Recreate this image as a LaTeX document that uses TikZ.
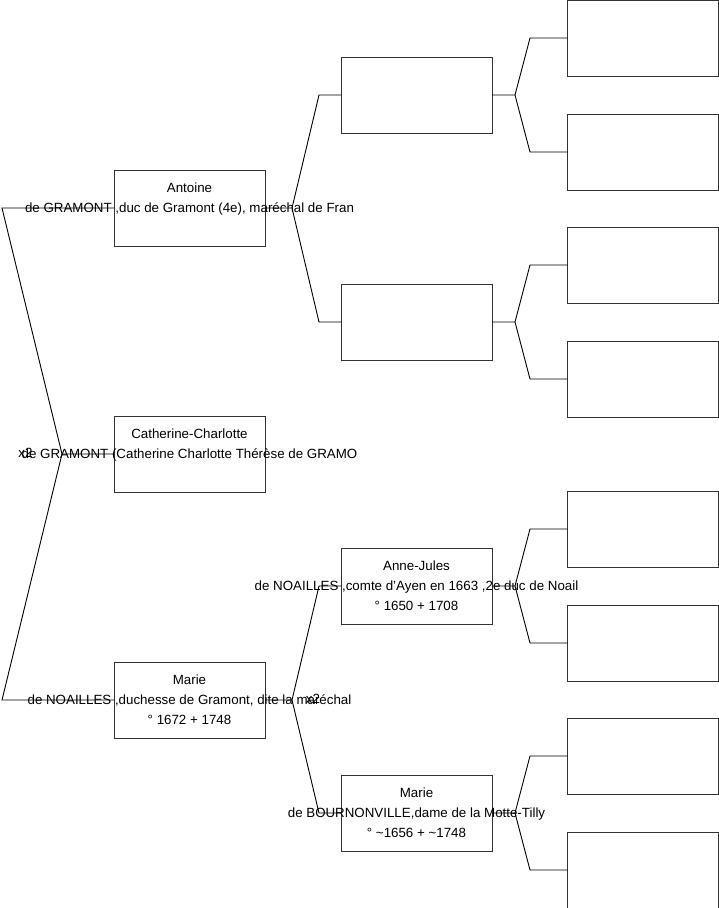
\documentclass[tikz,border=0pt]{standalone}
\usepackage{fontspec}
\setmainfont{Liberation Sans}
\begin{document}
\begin{tikzpicture}[x=1pt,y=-1pt,
  pbox/.style={draw=black!80,line width=1pt,minimum width=151pt,minimum height=76pt,inner sep=0pt,outer sep=0pt},
  ptext/.style={anchor=base,inner sep=0pt,font=\fontsize{13.33}{16}\selectfont},
  link/.style={draw=black,line width=0.9pt},
  mark2/.style={anchor=base,inner sep=0pt,font=\fontsize{13.33}{16}\selectfont}]
\useasboundingbox (0,0) rectangle (719,908);
\newcommand\personbox[6]{%
  \node[pbox] (#1) at (#2,#3) {};
  \node[ptext] (#1-a) at (#2,#3-16) {#4};
  \node[ptext] (#1-b) at (#2,#3+4) {#5};
  \node[ptext] (#1-c) at (#2,#3+24) {#6};}
% column 1
\personbox{A}{189.5}{208}{Antoine}{de GRAMONT ,duc de Gramont (4e), maréchal de Fran}{}
\personbox{C}{189.5}{454}{Catherine-Charlotte}{de GRAMONT (Catherine Charlotte Thérèse de GRAMO}{}
\personbox{M}{189.5}{700}{Marie}{de NOAILLES ,duchesse de Gramont, dite la maréchal}{° 1672 + 1748}
% column 2
\personbox{P1}{416.5}{95}{}{}{}
\personbox{P2}{416.5}{322}{}{}{}
\personbox{P3}{416.5}{586}{Anne-Jules}{de NOAILLES ,comte d'Ayen en 1663 ,2e duc de Noail}{° 1650 + 1708}
\personbox{P4}{416.5}{813}{Marie}{de BOURNONVILLE,dame de la Motte-Tilly}{° \textasciitilde1656 + \textasciitilde1748}
% column 3
\foreach \i/\yy in {1/38,2/152,3/265,4/379,5/529,6/643,7/756,8/870}{
  \node[pbox] (G\i) at (643,\yy) {};}
% connectors: Catherine to parents
\coordinate (jC) at (62,454);
\coordinate (kA) at (2,208);
\coordinate (kM) at (2,700);
\draw[link] (C.west) -- (jC) -- (kA) -- (A.west);
\draw[link] (jC) -- (kM) -- (M.west);
\node[mark2] (x2a) at (25.5,457) {x2};
% Antoine to parents
\coordinate (jA) at (292,208);
\coordinate (kA1) at (319,95);
\coordinate (kA2) at (319,322);
\draw[link] (A.east) -- (jA) -- (kA1) -- (P1.west);
\draw[link] (jA) -- (kA2) -- (P2.west);
% Marie to parents
\coordinate (jM) at (292,700);
\coordinate (kM1) at (319,586);
\coordinate (kM2) at (319,813);
\draw[link] (M.east) -- (jM) -- (kM1) -- (P3.west);
\draw[link] (jM) -- (kM2) -- (P4.west);
\node[mark2] (x2b) at (313,703) {x2};
% column 2 to column 3
\foreach \p/\yy/\ga/\gb in {P1/95/G1/G2,P2/322/G3/G4,P3/586/G5/G6,P4/813/G7/G8}{
  \coordinate (j\p) at (515,\yy);
  \coordinate (u\p) at (530,\yy-57);
  \coordinate (d\p) at (530,\yy+57);
  \draw[link] (\p.east) -- (j\p) -- (u\p) -- (\ga.west);
  \draw[link] (j\p) -- (d\p) -- (\gb.west);
}
\end{tikzpicture}
\end{document}
